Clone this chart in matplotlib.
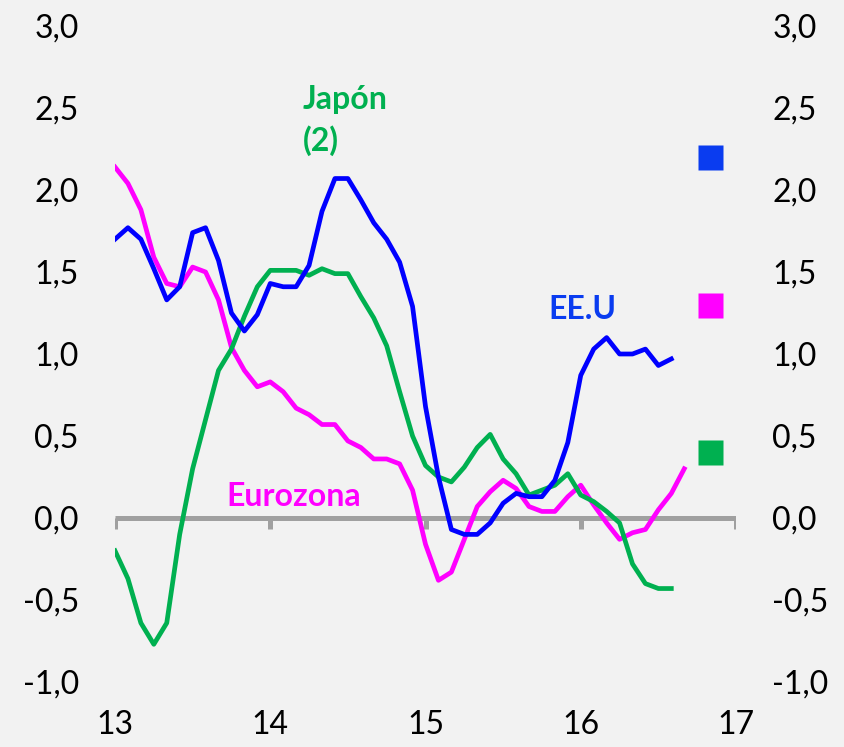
import matplotlib
matplotlib.use("Agg")
import numpy as np
import matplotlib.pyplot as plt

BG = "#f2f2f2"
W, H = 844, 747

# monthly series, Jan 2013 onwards
eeuu = [1.70, 1.77, 1.70, 1.52, 1.33, 1.41, 1.74, 1.77, 1.57, 1.25, 1.14, 1.24,
        1.43, 1.41, 1.41, 1.54, 1.87, 2.07, 2.07, 1.94, 1.80, 1.70, 1.56, 1.29,
        0.68, 0.25, -0.07, -0.10, -0.10, -0.03, 0.09, 0.15, 0.13, 0.13, 0.23, 0.46,
        0.87, 1.03, 1.10, 1.00, 1.00, 1.03, 0.93, 0.97]
eurozona = [2.14, 2.04, 1.88, 1.59, 1.43, 1.41, 1.53, 1.50, 1.33, 1.04, 0.90, 0.80,
            0.83, 0.77, 0.67, 0.63, 0.57, 0.57, 0.47, 0.43, 0.36, 0.36, 0.33, 0.17,
            -0.16, -0.38, -0.33, -0.13, 0.07, 0.16, 0.23, 0.18, 0.07, 0.04, 0.04, 0.13,
            0.20, 0.08, -0.03, -0.13, -0.09, -0.07, 0.05, 0.15, 0.30]
japon = [-0.20, -0.37, -0.64, -0.77, -0.64, -0.10, 0.30, 0.60, 0.90, 1.03, 1.23, 1.41,
         1.51, 1.51, 1.51, 1.48, 1.52, 1.49, 1.49, 1.35, 1.22, 1.05, 0.77, 0.50,
         0.32, 0.25, 0.22, 0.31, 0.43, 0.51, 0.36, 0.27, 0.14, 0.17, 0.20, 0.27,
         0.14, 0.10, 0.04, -0.03, -0.28, -0.40, -0.43, -0.43]

years = [13, 14, 15, 16, 17]
yticks = [-1.0, -0.5, 0.0, 0.5, 1.0, 1.5, 2.0, 2.5, 3.0]
ylabels = ["-1,0", "-0,5", "0,0", "0,5", "1,0", "1,5", "2,0", "2,5", "3,0"]

BLUE, MAGENTA, GREEN = "#0000ff", "#ff00ff", "#00b050"
LABEL_BLUE = "#0a3cf0"
key_y = [2.20, 1.30, 0.40]  # coloured squares on the right
key_colors = [LABEL_BLUE, MAGENTA, GREEN]

plt.rcParams["font.family"] = ["Lato", "DejaVu Sans"]

fig = plt.figure(figsize=(W / 100, H / 100), dpi=100)
fig.patch.set_facecolor(BG)
ax = fig.add_axes([115 / W, 65 / H, 621 / W, 656 / H])
ax.set_facecolor(BG)
ax.set_xlim(13, 17)
ax.set_ylim(-1.0, 3.0)
for s in ax.spines.values():
    s.set_visible(False)

# zero line with year ticks
ax.axhline(0, color="#a0a0a0", lw=3.6, zorder=1, solid_capstyle="butt")
ax.vlines(years, -0.065, 0, color="#a0a0a0", lw=3.6, zorder=1)

def months(vals):
    return 13 + np.arange(len(vals)) / 12

ax.plot(months(eurozona), eurozona, color=MAGENTA, lw=3.4, zorder=3)
ax.plot(months(japon), japon, color=GREEN, lw=3.4, zorder=3)
ax.plot(months(eeuu), eeuu, color=BLUE, lw=3.4, zorder=4)

for yk, c in zip(key_y, key_colors):
    ax.plot(16.83, yk, marker="s", ms=18, color=c, mec="none", clip_on=False)

lab = dict(fontsize=23, fontweight="bold", va="center")
ax.text(14.21, 2.55, "Japón", color=GREEN, ha="left", **lab)
ax.text(14.21, 2.30, "(2)", color=GREEN, ha="left", **lab)
ax.text(16.01, 1.27, "EE.U", color=LABEL_BLUE, ha="center", **lab)
ax.text(14.15, 0.13, "Eurozona", color=MAGENTA, ha="center", **lab)

ax.set_xticks(years)
ax.set_xticklabels([str(y) for y in years])
ax.set_yticks(yticks)
ax.set_yticklabels(ylabels)
ax.tick_params(axis="y", length=0, pad=26, labelsize=23, labelleft=True, labelright=False)
ax.tick_params(axis="x", length=0, pad=20, labelsize=23)

ax2 = ax.twinx()
ax2.set_ylim(-1.0, 3.0)
ax2.set_yticks(yticks)
ax2.set_yticklabels(ylabels)
ax2.tick_params(axis="y", length=0, pad=26, labelsize=23)
for s in ax2.spines.values():
    s.set_visible(False)

fig.savefig("out.png", facecolor=BG)
plt.close(fig)
